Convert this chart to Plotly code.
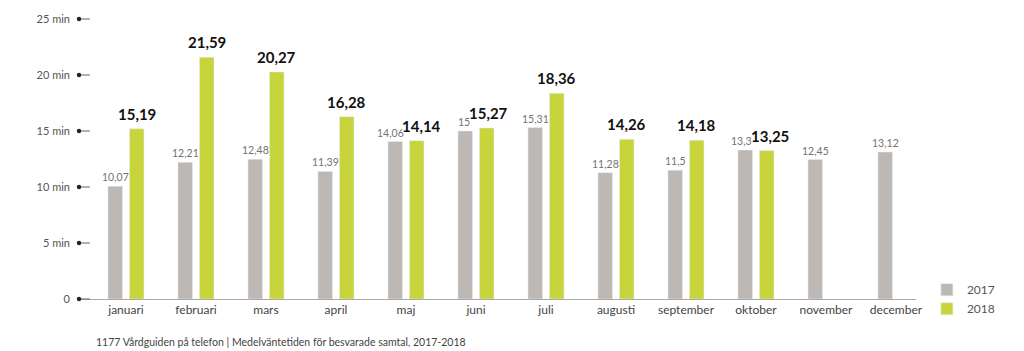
import plotly.graph_objects as go

months = ["januari", "februari", "mars", "april", "maj", "juni", "juli",
          "augusti", "september", "oktober", "november", "december"]
values_2017 = [10.07, 12.21, 12.48, 11.39, 14.06, 15, 15.31, 11.28, 11.5, 13.3, 12.45, 13.12]
values_2018 = [15.19, 21.59, 20.27, 16.28, 14.14, 15.27, 18.36, 14.26, 14.18, 13.25, None, None]
tick_vals = [0, 5, 10, 15, 20, 25]
tick_text = ["0", "5 min", "10 min", "15 min", "20 min", "25 min"]
caption = "1177 Vårdguiden på telefon | Medelväntetiden för besvarade samtal, 2017-2018"

GRAY = "#bdb8b3"
GREEN = "#c8d43c"
FONT = "Lato"
SLOT = 10.75  # px offset of each bar from its month centre
Y_RANGE = [0, 25]


def fmt(v):
    return "" if v is None else ("%g" % v).replace(".", ",")


def est_width(s, digit, comma):
    return sum(comma if c == "," else digit for c in s)


fig = go.Figure()
fig.add_trace(go.Bar(name="2017", x=months, y=values_2017, marker_color=GRAY,
                     hoverinfo="skip"))
fig.add_trace(go.Bar(name="2018", x=months, y=values_2018, marker_color=GREEN,
                     hoverinfo="skip"))

annotations = []
for m, a, b in zip(months, values_2017, values_2018):
    sa, sb = fmt(a), fmt(b)
    dx_a, dx_b = -SLOT, SLOT
    if a is not None and b is not None and abs(a - b) < 1.2:
        need = (est_width(sa, 5.4, 2.4) + est_width(sb, 8.2, 3.4)) / 2 + 1
        extra = max(0.0, need - 2 * SLOT) / 2
        dx_a -= extra
        dx_b += extra
    if a is not None:
        annotations.append(dict(x=m, y=a, xref="x", yref="y", text=sa,
                                showarrow=False, xanchor="center", yanchor="bottom",
                                xshift=dx_a, yshift=1,
                                font=dict(family=FONT, size=10.5, color="#737373")))
    if b is not None:
        annotations.append(dict(x=m, y=b, xref="x", yref="y", text=sb,
                                showarrow=False, xanchor="center", yanchor="bottom",
                                xshift=dx_b, yshift=4,
                                font=dict(family=FONT, size=15, color="#111111", weight="bold")))

annotations.append(dict(text=caption, xref="paper", yref="paper",
                        x=0.018, y=-0.154, xanchor="left", yanchor="middle",
                        showarrow=False,
                        font=dict(family=FONT, size=10.5, color="#444444")))

# dot + short line at each y tick (paper refs so nothing is clipped)
shapes = []
for v in tick_vals:
    yp = (v - Y_RANGE[0]) / (Y_RANGE[1] - Y_RANGE[0])
    shapes.append(dict(type="line", xref="paper", yref="paper",
                       xsizemode="pixel", xanchor=0, x0=0, x1=11, y0=yp, y1=yp,
                       line=dict(color="#666666", width=1)))
    shapes.append(dict(type="circle", xref="paper", yref="paper",
                       xsizemode="pixel", ysizemode="pixel",
                       xanchor=0, yanchor=yp, x0=-2.2, x1=2.2, y0=-2.2, y1=2.2,
                       fillcolor="#222222", line=dict(width=0)))

fig.update_layout(
    width=1024, height=351,
    margin=dict(l=79, r=108, t=13, b=52),
    plot_bgcolor="white", paper_bgcolor="white",
    barmode="group", bargap=0.386, bargroupgap=0.326,
    font=dict(family=FONT, color="#555555"),
    shapes=shapes,
    annotations=annotations,
    legend=dict(x=1.013, y=0.085, xanchor="left", yanchor="top",
                font=dict(family=FONT, size=12, color="#555555"),
                bgcolor="rgba(0,0,0,0)"),
)
fig.update_xaxes(
    range=[-0.671, 11.286], showline=True, linecolor="#aaaaaa", linewidth=1,
    showgrid=False, ticks="", tickfont=dict(family=FONT, size=12, color="#444444"),
)
fig.update_yaxes(
    range=Y_RANGE, tickvals=tick_vals, ticktext=tick_text,
    showgrid=False, zeroline=False, showline=False, ticks="",
    ticklabelstandoff=8,
    tickfont=dict(family=FONT, size=11, color="#555555"),
)

fig.write_html("out.html")
